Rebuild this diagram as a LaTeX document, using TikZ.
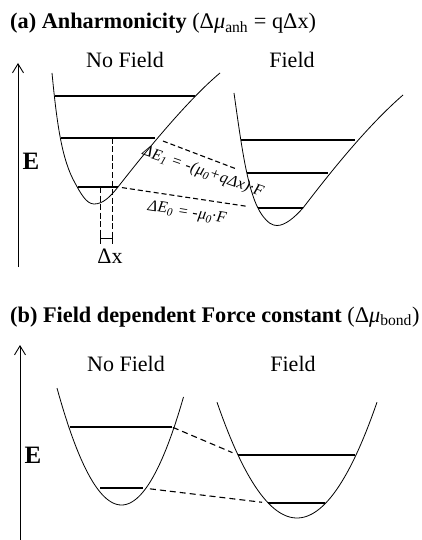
\documentclass[tikz,border=0pt]{standalone}
\usepackage{fontspec}
\setmainfont{Liberation Serif}
\usetikzlibrary{arrows.meta}
\begin{document}
\begin{tikzpicture}[x=1pt,y=-1pt,
  level/.style={line width=1.7pt},
  well/.style={line width=0.8pt},
  conn/.style={line width=1.1pt, dash pattern=on 5pt off 3pt},
  vdash/.style={line width=0.9pt, dash pattern=on 6pt off 2.5pt},
  axis/.style={line width=0.9pt, -{Straight Barb[length=9pt,width=11pt,line width=0.9pt]}},
  lbl/.style={font=\fontsize{22}{26}\selectfont, anchor=base},
  elbl/.style={font=\fontsize{25}{28}\selectfont\bfseries, anchor=base},
  ttl/.style={font=\fontsize{22.3}{26}\selectfont\bfseries, anchor=base west, inner sep=0pt},
  small/.style={font=\fontsize{16}{18}\selectfont\itshape\addfontfeature{LetterSpace=2}, inner sep=0pt}]
\useasboundingbox (0,0) rectangle (421,540);

% ---------- (a) ----------
\node[ttl] (ta) at (10,29) {(a) Anharmonicity {\mdseries (Δ\textit{μ}\textsubscript{anh} = qΔx)}};
\coordinate (a0) at (18,267);
\coordinate (a1) at (18,63);
\draw[axis] (a0) -- (a1);
\node[elbl] (Ea) at (31,169) {E};
\node[lbl] (nfa) at (125,68) {No Field};
\node[lbl] (fa) at (292,68) {Field};

% left well (no field)
\draw[well] (52,73) .. controls (57,125) and (62,160) .. (75,183)
  .. controls (80,192) and (86,204) .. (94,204)
  .. controls (103,204) and (110,197) .. (118,187)
  .. controls (150,146) and (190,98) .. (220,73);
\coordinate (L0l) at (78,187); \coordinate (L0r) at (118,187);
\coordinate (L1l) at (61,138); \coordinate (L1r) at (155,138);
\coordinate (L2l) at (55,96);  \coordinate (L2r) at (195,96);
\draw[level] (L0l) -- (L0r);
\draw[level] (L1l) -- (L1r);
\draw[level] (L2l) -- (L2r);

% right well (field)
\draw[well] (234,93) .. controls (242,150) and (248,195) .. (262,215)
  .. controls (268,223) and (272,225.5) .. (277,225.5)
  .. controls (285,225.5) and (294,218) .. (303,208)
  .. controls (326,178) and (365,128) .. (403,95);
\coordinate (R0l) at (258,208); \coordinate (R0r) at (303,208);
\coordinate (R1l) at (247,173); \coordinate (R1r) at (328,173);
\coordinate (R2l) at (241,140); \coordinate (R2r) at (355,140);
\draw[level] (R0l) -- (R0r);
\draw[level] (R1l) -- (R1r);
\draw[level] (R2l) -- (R2r);

% connectors
\draw[conn, shorten <=8.5pt, shorten >=11.5pt] (L1r) -- (R1l);
\draw[conn, shorten <=4pt, shorten >=10pt] (L0r) -- (R0l);
\node[small, rotate=-19] (e1) at (203,172) {ΔE\textsubscript{1} = -(μ\textsubscript{0}+qΔx)·F};
\node[small, rotate=-9] (e0) at (187,213) {ΔE\textsubscript{0} = -μ\textsubscript{0}·F};

% delta x
\coordinate (x0t) at (100,187); \coordinate (x0b) at (100,243);
\coordinate (x1t) at (112,138); \coordinate (x1b) at (112,243);
\draw[vdash] (x0t) -- (x0b);
\draw[vdash] (x1t) -- (x1b);
\coordinate (b0) at (100,238); \coordinate (b1) at (112,238);
\draw[line width=0.9pt] (b0) -- (b1);
\draw[line width=0.9pt] (100,233) -- (100,244) (112,233) -- (112,244);
\node[lbl] (dx) at (110,263) {Δx};

% ---------- (b) ----------
\node[ttl] (tb) at (10,322) {(b) Field dependent Force constant {\mdseries (Δ\textit{μ}\textsubscript{bond})}};
\coordinate (b0a) at (20,540);
\coordinate (b1a) at (20,345);
\draw[axis] (b0a) -- (b1a);
\node[elbl] (Eb) at (33,463) {E};
\node[lbl] (nfb) at (126,371) {No Field};
\node[lbl] (fb) at (293,371) {Field};

\draw[well] plot[domain=-64.5:62, samples=60] ({121.5+\x},{505-0.0281*\x*\x});
\draw[well] plot[domain=-80:80, samples=60] ({297+\x},{518-0.0181*\x*\x});
\coordinate (P1l) at (70,427); \coordinate (P1r) at (172,427);
\coordinate (P0l) at (100,488); \coordinate (P0r) at (143,488);
\coordinate (Q1l) at (238,455); \coordinate (Q1r) at (355,455);
\coordinate (Q0l) at (268,503); \coordinate (Q0r) at (325,503);
\draw[level] (P1l) -- (P1r);
\draw[level] (P0l) -- (P0r);
\draw[level] (Q1l) -- (Q1r);
\draw[level] (Q0l) -- (Q0r);
\draw[conn, dash pattern=on 6pt off 4pt, shorten <=1pt, shorten >=6pt] (P1r) -- (Q1l);
\draw[conn, dash pattern=on 6pt off 4pt, shorten <=7pt, shorten >=6pt] (P0r) -- (Q0l);
\end{tikzpicture}
\end{document}
